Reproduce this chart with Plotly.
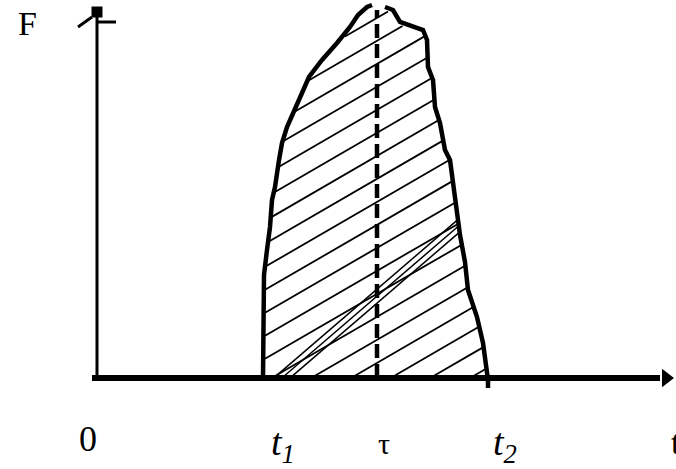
import numpy as np
import plotly.graph_objects as go

# impulse curve F(t), left flank then right flank (gap at the peak)
t_left = [165, 166, 169, 172, 174, 177, 181, 184, 189, 196, 204, 211, 224, 239, 252, 260, 269, 274]
F_left = [0, 103, 128, 151, 178, 191, 218, 235, 251, 268, 285, 301, 318, 335, 351, 363, 371, 373]
t_right = [287, 295, 302, 315, 325, 329, 330, 335, 337, 342, 347, 352, 357, 362, 367, 370, 379, 385, 390, 390]
F_right = [371, 368, 356, 351, 348, 338, 311, 298, 271, 255, 228, 218, 178, 143, 116, 88, 61, 35, -2, -10]

t1, tau, t2 = 165, 279, 390
F_tau = 368
t_end = 562
F_top = 371

labels = ['F', '0', '<i>t</i><sub><i>1</i></sub>', 'τ', '<i>t</i><sub><i>2</i></sub>']
label_t = [-71, -10, 185, 286, 407]
label_F = [355, -61, -67, -65, -67]
label_size = [34, 36, 38, 30, 38]

fig = go.Figure()

# hatching clipped to the area under the curve
tt = np.array(t_left + t_right[:-1], dtype=float)
FF = np.array(F_left + F_right[:-1], dtype=float)
xs = np.arange(t1 + 2, t2 - 1, 0.5)
top = np.interp(xs, tt, FF)

def hatch(slope, starts, t0):
    hx, hy = [], []
    for c in starts:
        y = c + slope * (xs - t0)
        ok = (y > 2) & (y < top - 3)
        for x_, y_, k in zip(xs, y, ok):
            hx.append(x_ if k else None)
            hy.append(y_ if k else None)
        hx.append(None)
        hy.append(None)
    return hx, hy

hx, hy = hatch(0.58, np.arange(-120, 380, 23), t1)
fig.add_trace(go.Scatter(x=hx, y=hy, mode='lines', line=dict(color='black', width=1.8),
                         hoverinfo='skip'))
hx, hy = hatch(0.86, [0, 7, 14], 192)
fig.add_trace(go.Scatter(x=hx, y=hy, mode='lines', line=dict(color='black', width=1.5),
                         hoverinfo='skip'))

# curve outline
fig.add_trace(go.Scatter(x=t_left + [None] + t_right, y=F_left + [None] + F_right,
                         mode='lines', line=dict(color='black', width=4.5)))

# dashed line at tau
fig.add_trace(go.Scatter(x=[tau, tau], y=[0, F_tau], mode='lines',
                         line=dict(color='black', width=4.5, dash='14px,6px')))

# axes
fig.add_trace(go.Scatter(x=[-6, t_end], y=[0, 0], mode='lines',
                         line=dict(color='black', width=6)))
fig.add_trace(go.Scatter(x=[t_end + 6], y=[0], mode='markers',
                         marker=dict(symbol='triangle-right', size=16, color='black')))
fig.add_trace(go.Scatter(x=[-1, -1], y=[0, F_top], mode='lines',
                         line=dict(color='black', width=3)))
fig.add_trace(go.Scatter(x=[-1], y=[F_top - 5], mode='markers',
                         marker=dict(symbol='square', size=11, color='black')))
fig.add_trace(go.Scatter(x=[-6, -20, None, 0, 18], y=[361, 351, None, 356, 356], mode='lines',
                         line=dict(color='black', width=3)))

for txt, x, y, s in zip(labels, label_t, label_F, label_size):
    fig.add_annotation(x=x, y=y, text=txt, showarrow=False, xanchor='center', yanchor='middle',
                       font=dict(family='Liberation Serif', size=s, color='black'))

# time axis label, cut by the right edge as in the original
fig.add_annotation(x=577, y=-64, text='t', showarrow=False, xanchor='left', yanchor='middle',
                   xshift=-6, font=dict(family='Liberation Serif', size=34, color='black'))

fig.update_layout(width=676, height=469, margin=dict(l=0, r=0, t=0, b=0),
                  paper_bgcolor='white', plot_bgcolor='white', showlegend=False,
                  xaxis=dict(range=[-98, 578], visible=False, fixedrange=True),
                  yaxis=dict(range=[-91, 378], visible=False, fixedrange=True))

# page body has a default margin, drop it so the figure sits at the corner
fig.write_html("out.html", config={'displayModeBar': False},
               post_script="document.body.style.margin='0px';document.body.style.overflow='hidden';")
